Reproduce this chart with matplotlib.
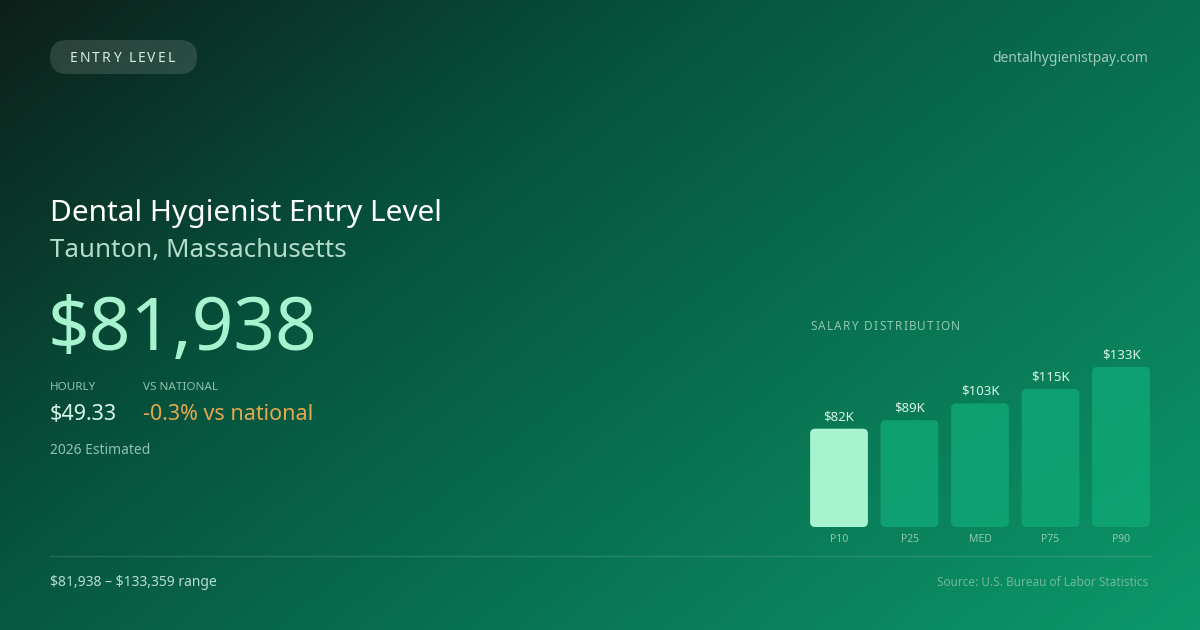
import numpy as np
import matplotlib
matplotlib.use("Agg")
import matplotlib.pyplot as plt
from matplotlib.colors import LinearSegmentedColormap
from matplotlib.patches import FancyBboxPatch

plt.rcParams['font.family'] = ['Noto Sans', 'DejaVu Sans']

# data
percentiles = ["P10", "P25", "MED", "P75", "P90"]
salaries_k = [81.938, 89.0, 103.0, 115.0, 133.359]
annual = 81938
hourly = 49.33
vs_national = -0.3
range_low, range_high = 81938, 133359

W, H = 1200, 630
fig = plt.figure(figsize=(12, 6.3), dpi=100)

# background gradient
bg = fig.add_axes([0, 0, 1, 1])
xx, yy = np.meshgrid(np.linspace(0, 1, 400), np.linspace(0, 1, 210))
t = 0.6 * xx + 0.4 * yy
cmap = LinearSegmentedColormap.from_list(
    "bg", [(0, (13/255, 32/255, 26/255)), (0.35, (6/255, 84/255, 62/255)),
           (1, (12/255, 152/255, 106/255))])
bg.imshow(t, cmap=cmap, extent=[0, W, H, 0], aspect='auto', vmin=0, vmax=1)
bg.set_xlim(0, W)
bg.set_ylim(H, 0)
bg.axis('off')


def spaced(ax, x, y, s, spacing, **kw):
    # draw text char by char to get letter spacing
    r = fig.canvas.get_renderer()
    for ch in s:
        tx = ax.text(x, y, ch, va='center', ha='left', **kw)
        w = tx.get_window_extent(renderer=r).width
        x += w + spacing


# pill
pill = FancyBboxPatch((50, 40), 147, 34, boxstyle="round,pad=0,rounding_size=17",
                      fc=(1, 1, 1, 0.13), ec='none')
bg.add_patch(pill)
spaced(bg, 70, 58, "ENTRY LEVEL", 2.0, fontsize=10, color='#d6efe4')

bg.text(1148, 58, "dentalhygienistpay.com", ha='right', va='center',
        fontsize=10, color='#9fcbbb')

bg.text(50, 214, "Dental Hygienist Entry Level", ha='left', va='center',
        fontsize=21.5, color='white')
bg.text(50, 251, "Taunton, Massachusetts", ha='left', va='center',
        fontsize=18.7, color='#b4dccb')
bg.text(48, 331, f"\\${annual:,}", ha='left', va='center',
        fontsize=52.5, color='#a7f3d0')

bg.text(50, 388, "HOURLY", ha='left', va='center', fontsize=8.4, color='#8fc1ad')
bg.text(143, 388, "VS NATIONAL", ha='left', va='center', fontsize=8.4, color='#8fc1ad')
bg.text(50, 414, f"\\${hourly:.2f}", ha='left', va='center', fontsize=15.5, color='#d8f7ea')
bg.text(143, 414, f"{vs_national:.1f}% vs national", ha='left', va='center',
        fontsize=15.5, color='#e3a84f')
bg.text(50, 450, "2026 Estimated", ha='left', va='center', fontsize=10, color='#8fc1ad')

bg.plot([50, 1150], [556, 556], color=(1, 1, 1, 0.12), lw=1)
bg.text(50, 582, f"\\${range_low:,} – \\${range_high:,} range", ha='left', va='center',
        fontsize=10, color='#b9ddd0')
bg.text(1148, 582, "Source: U.S. Bureau of Labor Statistics", ha='right', va='center',
        fontsize=8.5, color='#6fb89b')

spaced(bg, 810, 326, "SALARY DISTRIBUTION", 1.3, fontsize=8.5, color='#8fc7b1')

# bar chart
ax = fig.add_axes([803.75 / W, (H - 527) / H, 352.5 / W, 168 / H])
ax.set_xlim(-0.5, 4.5)
ax.set_ylim(0, 140)
ax.axis('off')
bar_w = 0.82
xpx = 352.5 / 5.0       # pixels per x unit
ypx = 168 / 140.0       # pixels per y unit
for i, (p, v) in enumerate(zip(percentiles, salaries_k)):
    col = '#a7f3d0' if i == 0 else '#0fa674'
    patch = FancyBboxPatch((i - bar_w / 2, 0), bar_w, v,
                           boxstyle="round,pad=0,rounding_size=%f" % (5 / xpx),
                           mutation_aspect=xpx / ypx,
                           fc=col, ec='none', alpha=1.0 if i == 0 else 0.85)
    ax.add_patch(patch)
    ax.text(i, v + 12 / ypx, f"\\${v:.0f}K", ha='center', va='center',
            fontsize=9.5, color='#d9f5e8')
    ax.text(i, -12.5 / ypx, p, ha='center', va='center', fontsize=7.5,
            color='#8fc7b1', clip_on=False)

fig.savefig("out.png", dpi=100)
